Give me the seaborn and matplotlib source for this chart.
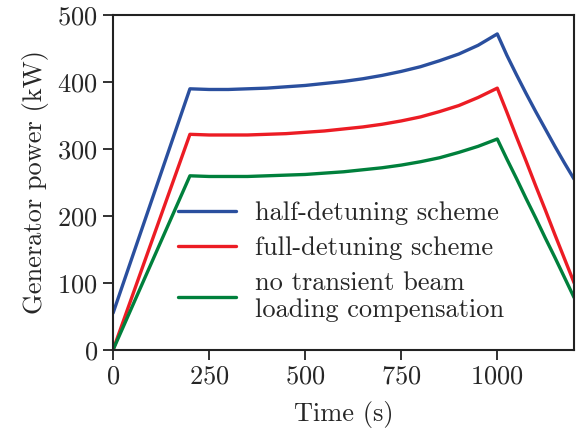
import matplotlib
matplotlib.use("Agg")
import matplotlib.pyplot as plt
import seaborn as sns
import pandas as pd

sns.set_theme(style="ticks")
plt.rcParams["font.family"] = ["cmr10", "DejaVu Serif"]
plt.rcParams["axes.formatter.use_mathtext"] = True
plt.rcParams["mathtext.fontset"] = "cm"

# time points (s) and generator power (kW)
time_s = [0, 200, 250, 300, 350, 400, 450, 500, 550, 600, 650, 700, 750, 800,
          850, 900, 950, 1000, 1025, 1050, 1075, 1100, 1125, 1150, 1175, 1200]
half_detuning = [55, 390, 389, 389, 390, 391, 393, 395, 398, 401, 405, 410, 416, 423,
                 432, 442, 455, 472, 440, 411, 383, 356, 330, 304, 279, 255]
full_detuning = [0, 322, 321, 321, 321, 322, 323, 325, 327, 330, 333, 337, 342, 348,
                 356, 365, 377, 391, 355, 318, 282, 245, 209, 172, 136, 100]
no_compensation = [0, 260, 259, 259, 259, 260, 261, 262, 264, 266, 269, 272, 276, 281,
                   287, 295, 304, 315, 285, 256, 226, 197, 167, 138, 108, 78]

labels = ["half-detuning scheme", "full-detuning scheme",
          "no transient beam\nloading compensation"]
colors = ["#2a4f9e", "#ec1c24", "#00803c"]

df = pd.DataFrame({
    "time": time_s * 3,
    "power": half_detuning + full_detuning + no_compensation,
    "scheme": [labels[0]] * len(time_s) + [labels[1]] * len(time_s) + [labels[2]] * len(time_s),
})

fig, ax = plt.subplots(figsize=(5.77, 4.34), dpi=100)
fig.subplots_adjust(left=0.196, right=0.995, top=0.965, bottom=0.194)

sns.lineplot(data=df, x="time", y="power", hue="scheme", palette=colors,
             linewidth=2.4, ax=ax)

ax.set_xlim(0, 1200)
ax.set_ylim(0, 500)
ax.set_xticks([0, 250, 500, 750, 1000])
ax.set_yticks([0, 100, 200, 300, 400, 500])
ax.set_xlabel("Time (s)", fontsize=19, labelpad=9)
ax.set_ylabel("Generator power (kW)", fontsize=19, labelpad=6)
ax.tick_params(labelsize=19, direction="out", length=7, width=1.3,
               color="#222222", pad=4)
for s in ax.spines.values():
    s.set_linewidth(1.5)
    s.set_color("#222222")

ax.legend(frameon=False, fontsize=19, loc="upper left",
          bbox_to_anchor=(0.117, 0.475), handlelength=2.2, labelspacing=0.42,
          borderaxespad=0, handletextpad=0.75)

fig.savefig("out.png", dpi=100)
